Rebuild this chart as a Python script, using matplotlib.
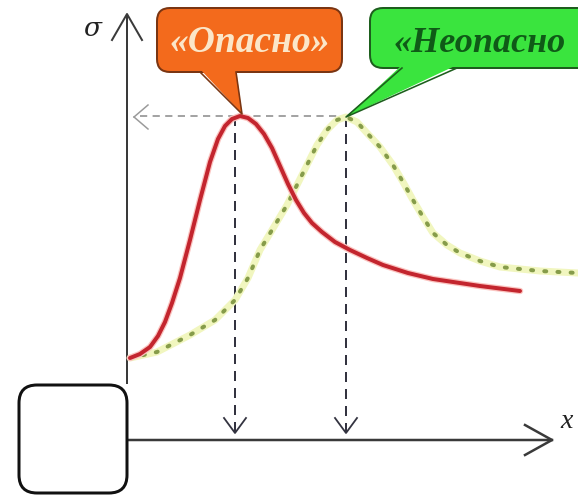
import matplotlib
matplotlib.use("Agg")
import matplotlib.pyplot as plt
from matplotlib.patches import FancyBboxPatch, Polygon

W, H = 578, 497
PX = 0.72  # points per pixel at dpi 100

# curves, in picture pixels (x to the right, y downwards)
red_x = [130, 140, 150, 158, 165, 172, 180, 190, 200, 210, 218, 225, 232, 240,
         248, 256, 264, 272, 280, 288, 296, 304, 312, 322, 335, 350, 367, 383,
         408, 433, 480, 520]
red_y = [358, 354, 347, 336, 322, 303, 278, 240, 200, 162, 139, 126, 119, 116,
         118, 124, 134, 148, 166, 184, 200, 213, 223, 232, 242, 250, 258, 265,
         273, 279, 286, 291]

green_x = [130, 157, 190, 215, 235, 248, 260, 275, 287, 297, 307, 317, 327, 337,
           346, 357, 367, 380, 393, 403, 413, 423, 433, 447, 460, 480, 500, 540, 578]
green_y = [358, 352, 335, 320, 300, 278, 250, 225, 205, 185, 165, 145, 130, 120,
           117, 122, 133, 147, 165, 182, 200, 217, 233, 245, 253, 261, 267, 271, 273]

# the two peaks and the axes
peak_red = (240, 116)
peak_green = (346, 117)
axis_x0 = 127          # vertical axis position
axis_y0 = 440          # horizontal axis position
label_red = "«Опасно»"
label_green = "«Неопасно"   # the closing quote is cropped off in the source

fig = plt.figure(figsize=(W / 100, H / 100), dpi=100)
ax = fig.add_axes([0, 0, 1, 1])
ax.set_xlim(0, W)
ax.set_ylim(H, 0)
ax.axis("off")

AX = "#3a3a3a"
# axes with open arrow heads
ax.plot([axis_x0, axis_x0], [384, 14], color=AX, lw=2 * PX, solid_capstyle="butt")
ax.plot([axis_x0 - 15, axis_x0, axis_x0 + 15], [40, 14, 40], color=AX, lw=2 * PX)
ax.plot([100, 552], [axis_y0, axis_y0], color=AX, lw=2.5 * PX)
ax.plot([525, 552, 525], [axis_y0 - 15, axis_y0, axis_y0 + 15], color=AX, lw=2.5 * PX)
ax.text(92, 28, "σ", fontsize=19, fontstyle="italic", family="DejaVu Serif",
        ha="center", va="center", color="#222222")
ax.text(567, 422, "x", fontsize=20, fontstyle="italic", family="Liberation Serif",
        ha="center", va="center", color="#222222")

# rounded square in the corner
ax.add_patch(FancyBboxPatch((19, 385), 108, 108,
                            boxstyle="round,pad=0,rounding_size=18",
                            fc="white", ec="#111111", lw=3 * PX, zorder=3))

# dashed guide lines
ax.plot([140, peak_green[0]], [peak_red[1], peak_red[1]], color="#9a9a9a",
        lw=1.8 * PX, dashes=(4, 3))
ax.plot([134, 148], [117, 105], color="#9a9a9a", lw=1.5 * PX)
ax.plot([134, 148], [117, 129], color="#9a9a9a", lw=1.5 * PX)
for px_, top in ((235, peak_red[1]), (peak_green[0], peak_green[1])):
    ax.plot([px_, px_], [top, 432], color="#333340", lw=2 * PX, dashes=(5, 3.5))
    ax.plot([px_ - 11, px_, px_ + 11], [418, 433, 418], color="#333340", lw=1.8 * PX)

# curves
ax.plot(green_x, green_y, color="#f1f6bf", lw=7 * PX, solid_capstyle="round",
        solid_joinstyle="round", zorder=4)
ax.plot(green_x, green_y, color="#869c4a", lw=4 * PX, ls=(0, (0.5, 2.8)),
        dash_capstyle="round", zorder=5)
ax.plot(red_x, red_y, color="#fbc4c0", lw=6.5 * PX, solid_capstyle="round",
        solid_joinstyle="round", zorder=6)
ax.plot(red_x, red_y, color="#c3252e", lw=4 * PX, solid_capstyle="round",
        solid_joinstyle="round", zorder=7)


def bubble(x0, x1, y0, y1, base, tip, fc, ec, zorder):
    ax.add_patch(FancyBboxPatch((x0, y0), x1 - x0, y1 - y0,
                                boxstyle="round,pad=0,rounding_size=13",
                                fc=fc, ec=ec, lw=2 * PX, zorder=zorder))
    ax.add_patch(Polygon([(base[0], y1 - 3), (base[1], y1 - 3), tip], closed=True,
                         fc=fc, ec="none", zorder=zorder + 1))
    ax.plot([base[0], tip[0], base[1]], [y1, tip[1], y1], color=ec, lw=1.6 * PX,
            zorder=zorder + 1)


bubble(157, 342, 8, 72, (200, 236), (242, 114), "#f36a1c", "#7a3512", 10)
bubble(370, 640, 8, 68, (402, 457), peak_green, "#3ae43e", "#1d5e1d", 10)

ax.text(250, 43, label_red, fontsize=27, fontweight="bold", fontstyle="italic",
        family="Liberation Serif", color="#fbe6c8", ha="center", va="center", zorder=20)
ax.text(394, 43, label_green, fontsize=26, fontweight="bold", fontstyle="italic",
        family="Liberation Serif", color="#0f5a17", ha="left", va="center", zorder=20)

fig.savefig("out.png", dpi=100)
